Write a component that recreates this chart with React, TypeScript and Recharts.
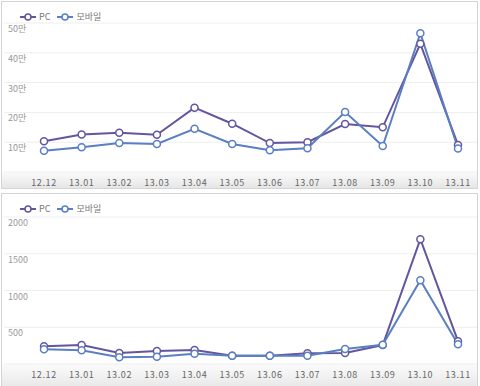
import { LineChart, Line, XAxis, YAxis, CartesianGrid } from 'recharts';

const months = ['12.12', '13.01', '13.02', '13.03', '13.04', '13.05', '13.06', '13.07', '13.08', '13.09', '13.10', '13.11'];

const visitPc = [103000, 126000, 132000, 125000, 216000, 162000, 97000, 100000, 161000, 150000, 430000, 91000];
const visitMobile = [71000, 83000, 97000, 94000, 145000, 94000, 73000, 80000, 201000, 87000, 466000, 79000];

const countPc = [240, 258, 150, 177, 190, 113, 113, 145, 150, 258, 1698, 310];
const countMobile = [200, 186, 91, 100, 140, 113, 113, 113, 204, 262, 1141, 270];

const visitTicks = [0, 100000, 200000, 300000, 400000, 500000];
const countTicks = [0, 500, 1000, 1500, 2000];

const PC_COLOR = '#63559e';
const MOBILE_COLOR = '#5a7fc2';
const FONT = '"Noto Sans CJK KR", "DejaVu Sans", sans-serif';

function LegendIcon({ color }: { color: string }) {
  return (
    <svg width={16} height={8} style={{ verticalAlign: 'middle' }}>
      <line x1={0} y1={4} x2={16} y2={4} stroke={color} strokeWidth={2} />
      <circle cx={8} cy={4} r={3} fill="#fff" stroke={color} strokeWidth={1.5} />
    </svg>
  );
}

function Panel({ top, pc, mobile, ticks, format, marginTop, height }: any) {
  const data = months.map((m, i) => ({ month: m, pc: pc[i], mobile: mobile[i] }));
  const plotBottom = 170;

  const yTick = (props: any) => {
    const { y, payload } = props;
    if (payload.value === 0) return <g />;
    return (
      <text x={6} y={y + 9} fontSize={9} fill="#999" fontFamily={FONT} textAnchor="start">
        {format(payload.value)}
      </text>
    );
  };

  const xTick = (props: any) => {
    const { x, y, payload } = props;
    return (
      <text x={x} y={y + 6} fontSize={9} fill="#666" fontFamily={FONT} textAnchor="middle" letterSpacing={0.6}>
        {payload.value}
      </text>
    );
  };

  return (
    <div
      style={{
        position: 'absolute',
        left: 1,
        top,
        width: 475,
        height,
        border: '1px solid #d4d4d4',
        background: '#fff',
        overflow: 'hidden',
      }}
    >
      <div
        style={{
          position: 'absolute',
          left: 0,
          top: plotBottom,
          width: 475,
          height: height - plotBottom,
          background: 'linear-gradient(#fbfbfb, #e6e6e6)',
        }}
      />
      <div
        style={{
          position: 'absolute',
          left: 18,
          top: 8,
          fontSize: 9,
          color: '#777',
          fontFamily: FONT,
          display: 'flex',
          alignItems: 'center',
          gap: 3,
          zIndex: 2,
        }}
      >
        <LegendIcon color={PC_COLOR} />
        <span style={{ marginRight: 4 }}>PC</span>
        <LegendIcon color={MOBILE_COLOR} />
        <span>모바일</span>
      </div>
      <div style={{ position: 'absolute', left: 0, top: 0 }}>
        <LineChart
          width={475}
          height={height}
          data={data}
          margin={{ top: marginTop, right: 0, bottom: 0, left: 0 }}
        >
          <CartesianGrid vertical={false} stroke="#eeeeee" />
          <XAxis
            dataKey="month"
            axisLine={false}
            tickLine={false}
            height={height - plotBottom}
            padding={{ left: 40, right: 19 }}
            tick={xTick}
            interval={0}
          />
          <YAxis
            width={2}
            domain={[0, ticks[ticks.length - 1]]}
            ticks={ticks}
            interval={0}
            axisLine={false}
            tickLine={false}
            tick={yTick}
          />
          <Line
            type="linear"
            dataKey="pc"
            stroke={PC_COLOR}
            strokeWidth={2}
            dot={{ r: 3.5, fill: '#fff', stroke: PC_COLOR, strokeWidth: 1.5 }}
            isAnimationActive={false}
          />
          <Line
            type="linear"
            dataKey="mobile"
            stroke={MOBILE_COLOR}
            strokeWidth={2}
            dot={{ r: 3.5, fill: '#fff', stroke: MOBILE_COLOR, strokeWidth: 1.5 }}
            isAnimationActive={false}
          />
        </LineChart>
      </div>
    </div>
  );
}

export default function App() {
  return (
    <div style={{ position: 'absolute', left: 0, top: 0, width: 480, height: 386, background: '#fff', overflow: 'hidden' }}>
      <Panel
        top={1}
        pc={visitPc}
        mobile={visitMobile}
        ticks={visitTicks}
        format={(v: number) => `${v / 10000}만`}
        marginTop={21}
        height={186}
      />
      <Panel
        top={193}
        pc={countPc}
        mobile={countMobile}
        ticks={countTicks}
        format={(v: number) => `${v}`}
        marginTop={23}
        height={196}
      />
    </div>
  );
}
